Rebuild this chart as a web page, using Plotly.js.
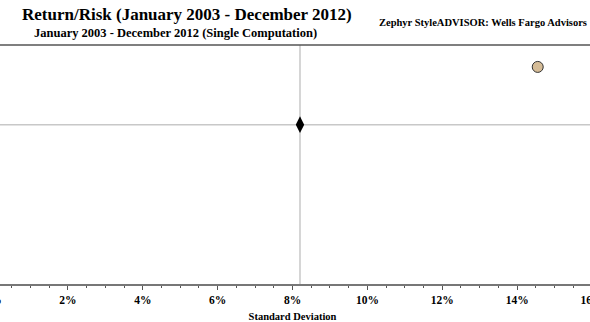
<!DOCTYPE html>
<html>
<head>
<meta charset="utf-8">
<script src="https://cdn.plot.ly/plotly-3.0.1.min.js"></script>
<style>
html, body { margin:0; padding:0; width:590px; height:322px; overflow:hidden; background:#fff; }
#chart { position:absolute; left:-7px; top:0; width:599px; height:322px; }
</style>
</head>
<body>
<div id="chart"></div>
<script>
// Data
const seriesNames = ['Portfolio', 'Benchmark'];
const stdDev = [14.55, 8.2];      // Standard deviation, %
const returns = [10.9, 8.0];      // Return, % (y axis not shown in the reference)
const xTickVals = [0, 2, 4, 6, 8, 10, 12, 14, 16];
const xTickText = ['0%', '2%', '4%', '6%', '8%', '10%', '12%', '14%', '16%'];

const serif = '"Liberation Serif", "DejaVu Serif", serif';
const W = 599, OFF = 7;
const px = p => (p + OFF) / W;

const traces = [
  {
    type: 'scatter', mode: 'markers', name: seriesNames[0],
    x: [stdDev[0]], y: [returns[0]],
    marker: { symbol: 'circle', size: 11, color: '#d5bc97', line: { color: '#333333', width: 1 } },
    hoverinfo: 'skip'
  },
  {
    type: 'scatter', mode: 'markers', name: seriesNames[1],
    x: [stdDev[1]], y: [returns[1]],
    marker: { symbol: 'diamond-tall', size: 12, color: '#000000', line: { width: 0 } },
    hoverinfo: 'skip'
  }
];

const layout = {
  width: W, height: 322,
  margin: { l: 0, r: 0, t: 45, b: 38, pad: 0 },
  paper_bgcolor: '#ffffff', plot_bgcolor: '#ffffff',
  showlegend: false,
  font: { family: serif, color: '#000' },
  xaxis: {
    range: [0, 16],
    tickvals: xTickVals, ticktext: xTickText,
    ticklabeloverflow: 'allow',
    ticks: 'outside', ticklen: 4, tickwidth: 1, tickcolor: '#555',
    minor: { dtick: 0.5, ticks: 'outside', ticklen: 2, tickwidth: 1, tickcolor: '#555' },
    showline: true, linecolor: '#777', linewidth: 2,
    showgrid: false, zeroline: false,
    tickfont: { family: serif, size: 11.5, color: '#000', weight: 'bold' },
    title: { text: '<b>Standard Deviation</b>', font: { family: serif, size: 10.5, color: '#000' }, standoff: 9 }
  },
  yaxis: {
    range: [0, 12],
    visible: false, showgrid: false, zeroline: false
  },
  shapes: [
    { type: 'line', xref: 'x', yref: 'paper', x0: stdDev[1], x1: stdDev[1], y0: 0, y1: 1,
      line: { color: '#c8c8c8', width: 1.5 }, layer: 'below' },
    { type: 'line', xref: 'paper', yref: 'y', x0: 0, x1: 1, y0: returns[1], y1: returns[1],
      line: { color: '#c8c8c8', width: 1.5 }, layer: 'below' },
    { type: 'line', xref: 'paper', yref: 'paper', x0: 0, x1: 1, y0: 1, y1: 1,
      line: { color: '#555555', width: 1.5 } }
  ],
  annotations: [
    { text: '<b>Return/Risk (January 2003 - December 2012)</b>', xref: 'paper', yref: 'paper',
      x: px(187), y: 1, yshift: 31, xanchor: 'center', yanchor: 'middle', showarrow: false,
      font: { family: serif, size: 17, color: '#000' } },
    { text: '<b>January 2003 - December 2012 (Single Computation)</b>', xref: 'paper', yref: 'paper',
      x: px(175), y: 1, yshift: 12, xanchor: 'center', yanchor: 'middle', showarrow: false,
      font: { family: serif, size: 12.5, color: '#000' } },
    { text: '<b>Zephyr StyleADVISOR: Wells Fargo Advisors</b>', xref: 'paper', yref: 'paper',
      x: px(589), y: 1, yshift: 23, xanchor: 'right', yanchor: 'middle', showarrow: false,
      font: { family: serif, size: 10.5, color: '#000' } }
  ]
};

Plotly.newPlot('chart', traces, layout, { staticPlot: true, displayModeBar: false });
</script>
</body>
</html>
